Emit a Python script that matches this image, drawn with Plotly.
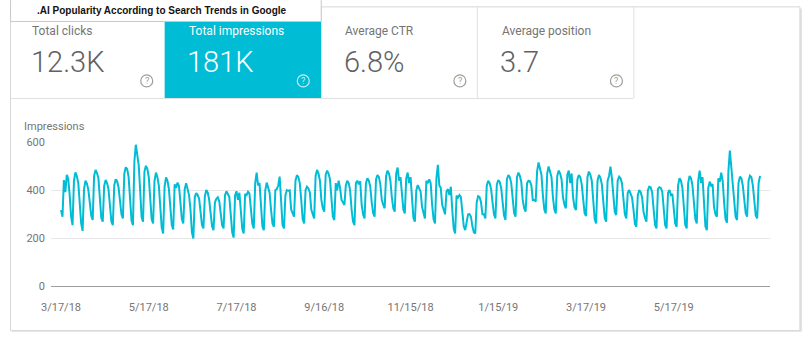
import plotly.graph_objects as go
import pandas as pd

# ---------------- data ----------------
start_date = "2018-03-17"
# daily impressions, one row per week (Sat..Fri)
weekly_impressions = [
    [318, 290, 443, 392, 464, 448, 380],
    [290, 255, 440, 475, 458, 430, 360],
    [262, 231, 405, 440, 428, 402, 335],
    [295, 276, 460, 485, 472, 450, 375],
    [285, 269, 418, 443, 430, 405, 350],
    [270, 255, 420, 446, 438, 412, 352],
    [300, 283, 470, 496, 488, 455, 380],
    [275, 255, 520, 590, 555, 505, 400],
    [288, 269, 478, 502, 490, 455, 372],
    [280, 262, 440, 474, 455, 420, 350],
    [245, 220, 415, 454, 440, 405, 330],
    [255, 237, 425, 410, 432, 418, 340],
    [280, 262, 405, 429, 400, 380, 320],
    [225, 199, 372, 388, 380, 365, 300],
    [255, 241, 375, 401, 390, 360, 310],
    [250, 234, 350, 365, 371, 355, 300],
    [255, 241, 380, 396, 385, 372, 300],
    [225, 203, 380, 396, 360, 390, 300],
    [240, 220, 385, 380, 394, 386, 310],
    [260, 241, 430, 474, 420, 430, 340],
    [250, 234, 400, 432, 415, 390, 320],
    [262, 248, 400, 405, 420, 457, 330],
    [255, 241, 380, 401, 398, 400, 320],
    [305, 290, 440, 463, 455, 430, 360],
    [280, 262, 400, 415, 408, 390, 320],
    [300, 283, 460, 485, 470, 440, 360],
    [325, 311, 465, 482, 470, 445, 370],
    [290, 276, 430, 400, 440, 410, 360],
    [350, 339, 420, 440, 430, 400, 320],
    [270, 255, 430, 440, 425, 438, 340],
    [300, 283, 430, 450, 440, 415, 350],
    [305, 290, 445, 464, 455, 425, 360],
    [340, 325, 460, 482, 470, 440, 370],
    [325, 311, 470, 495, 440, 455, 370],
    [320, 304, 450, 474, 430, 455, 360],
    [285, 269, 400, 422, 410, 395, 330],
    [300, 283, 440, 430, 446, 430, 340],
    [280, 262, 450, 506, 420, 410, 340],
    [320, 300, 395, 405, 380, 415, 320],
    [240, 220, 378, 370, 380, 372, 300],
    [250, 234, 275, 300, 301, 290, 250],
    [225, 220, 350, 376, 372, 350, 300],
    [300, 283, 420, 440, 430, 405, 350],
    [300, 283, 425, 443, 435, 410, 350],
    [295, 276, 445, 464, 455, 430, 360],
    [305, 290, 455, 474, 460, 435, 360],
    [325, 311, 430, 440, 438, 420, 360],
    [360, 353, 480, 516, 490, 465, 380],
    [320, 304, 470, 499, 480, 455, 370],
    [320, 304, 460, 482, 470, 445, 370],
    [340, 325, 465, 482, 430, 470, 370],
    [330, 318, 445, 464, 455, 425, 360],
    [305, 293, 455, 478, 465, 440, 360],
    [280, 262, 440, 464, 452, 425, 350],
    [285, 269, 440, 460, 499, 450, 360],
    [310, 297, 440, 457, 450, 430, 360],
    [300, 283, 390, 401, 380, 370, 320],
    [260, 248, 380, 401, 392, 370, 310],
    [285, 269, 400, 415, 412, 390, 320],
    [255, 241, 405, 413, 410, 395, 320],
    [255, 241, 390, 401, 380, 385, 320],
    [262, 248, 420, 450, 440, 410, 340],
    [255, 241, 430, 460, 450, 420, 340],
    [280, 262, 440, 482, 430, 455, 350],
    [250, 234, 410, 436, 420, 425, 330],
    [300, 290, 450, 435, 474, 440, 350],
    [280, 265, 480, 566, 500, 450, 360],
    [290, 276, 430, 457, 450, 420, 350],
    [305, 290, 440, 461, 455, 420, 350],
    [295, 283, 430, 460],
]
y_ticks = [0, 200, 400, 600]
x_tick_dates = ["2018-03-17", "2018-05-17", "2018-07-17", "2018-09-16",
                "2018-11-15", "2019-01-15", "2019-03-17", "2019-05-17"]
x_tick_labels = ["3/17/18", "5/17/18", "7/17/18", "9/16/18",
                 "11/15/18", "1/15/19", "3/17/19", "5/17/19"]
tile_labels = ["Total clicks", "Total impressions", "Average CTR", "Average position"]
tile_values = ["12.3K", "181K", "6.8%", "3.7"]
title_text = ".AI Popularity According to Search Trends in Google"
y_title = "Impressions"

impressions = [v for week in weekly_impressions for v in week]
dates = pd.date_range(start_date, periods=len(impressions), freq="D")

# ---------------- layout helpers ----------------
# The page shows the figure with an 8px body margin and the capture is
# rescaled to 810x339, so target pixel positions are mapped back to
# figure pixels here.
OFF = 8
SX = 810 / 818
SY = 339 / 355
W = 810 - OFF
H = 339

def X(px):
    return (px / SX - OFF) / W
def Y(py):
    return 1 - (py / SY - OFF) / H

CYAN = "#00bcd4"
GRAY_TXT = "#757575"
VAL_TXT = "#616161"

shapes = []
annotations = []

def rect(x0, y0, x1, y1, fill=None, line=None, lw=1, layer="below"):
    shapes.append(dict(type="rect", xref="paper", yref="paper",
                       x0=X(x0), x1=X(x1), y0=Y(y1), y1=Y(y0),
                       fillcolor=fill if fill else "rgba(0,0,0,0)",
                       line=dict(color=line if line else "rgba(0,0,0,0)", width=lw if line else 0),
                       layer=layer))

def hline(x0, x1, y, color, lw=1, layer="below"):
    shapes.append(dict(type="line", xref="paper", yref="paper",
                       x0=X(x0), x1=X(x1), y0=Y(y), y1=Y(y),
                       line=dict(color=color, width=lw), layer=layer))

def vline(x, y0, y1, color, lw=1, layer="below"):
    shapes.append(dict(type="line", xref="paper", yref="paper",
                       x0=X(x), x1=X(x), y0=Y(y0), y1=Y(y1),
                       line=dict(color=color, width=lw), layer=layer))

# card with shadow
rect(9.5, 10, 802, 331, fill="#e2e2e2")
rect(8.5, 8.5, 800, 330, fill="#ffffff", line="#d6d6d6")

# tiles
rect(163, 8, 320, 99, fill=CYAN)
hline(8, 633, 99.5, "#e0e0e0")
vline(476.5, 8, 99, "#e0e0e0")
vline(633.5, 8, 99, "#e0e0e0")

# title box
rect(8.5, 0, 320, 23, fill="#ffffff", line="#c8c8c8", layer="above")

tile_x = [28, 185, 342, 499]
icon_x = [145, 302, 459, 616]
for i in range(4):
    on_cyan = (i == 1)
    annotations.append(dict(xref="paper", yref="paper", x=X(tile_x[i]), y=Y(32),
                            xanchor="left", yanchor="middle", showarrow=False,
                            text=tile_labels[i],
                            font=dict(family="Roboto", size=12,
                                      color="#ffffff" if on_cyan else GRAY_TXT)))
    annotations.append(dict(xref="paper", yref="paper", x=X(tile_x[i] - 1.5), y=Y(63),
                            xanchor="left", yanchor="middle", showarrow=False,
                            text=tile_values[i],
                            font=dict(family="Roboto", size=29, weight=300,
                                      color="#ffffff" if on_cyan else VAL_TXT)))
    cx, cy, r = icon_x[i], 82, 6
    shapes.append(dict(type="circle", xref="paper", yref="paper",
                       x0=X(cx - r), x1=X(cx + r), y0=Y(cy + r), y1=Y(cy - r),
                       line=dict(color="#c5eef5" if on_cyan else "#9e9e9e", width=1.2),
                       layer="above"))
    annotations.append(dict(xref="paper", yref="paper", x=X(cx), y=Y(cy),
                            xanchor="center", yanchor="middle", showarrow=False,
                            text="?",
                            font=dict(family="Roboto", size=9,
                                      color="#c5eef5" if on_cyan else "#9e9e9e")))

annotations.append(dict(xref="paper", yref="paper", x=X(160), y=Y(12.5),
                        xanchor="center", yanchor="middle", showarrow=False,
                        text="<b>" + title_text + "</b>",
                        font=dict(family="Liberation Sans, Arial", size=10, color="#111111")))
annotations.append(dict(xref="paper", yref="paper", x=X(20), y=Y(127.5),
                        xanchor="left", yanchor="middle", showarrow=False,
                        text=y_title,
                        font=dict(family="Roboto", size=11, color=GRAY_TXT)))

fig = go.Figure()
fig.add_trace(go.Scatter(x=dates, y=impressions, mode="lines",
                         line=dict(color=CYAN, width=2), hoverinfo="skip"))

fig.update_layout(
    width=W, height=H,
    margin=dict(l=0, r=0, t=0, b=0),
    paper_bgcolor="#ffffff", plot_bgcolor="rgba(0,0,0,0)",
    showlegend=False,
    shapes=shapes, annotations=annotations,
    xaxis=dict(domain=[X(49), X(770)],
               range=["2018-03-10", "2019-07-22 22:00"],
               tickvals=x_tick_dates, ticktext=x_tick_labels,
               showgrid=False, zeroline=False,
               showline=True, linecolor="#9e9e9e", linewidth=1,
               ticks="", ticklabelstandoff=10,
               tickfont=dict(family="Roboto", size=11, color=GRAY_TXT)),
    yaxis=dict(domain=[Y(286), Y(143)],
               range=[0, 600], tickvals=y_ticks,
               showgrid=True, gridcolor="#e8e8e8", gridwidth=1,
               zeroline=False, showline=False, ticks="",
               ticklabelstandoff=5,
               tickfont=dict(family="Roboto", size=11, color=GRAY_TXT)),
)

fig.write_html("out.html")
